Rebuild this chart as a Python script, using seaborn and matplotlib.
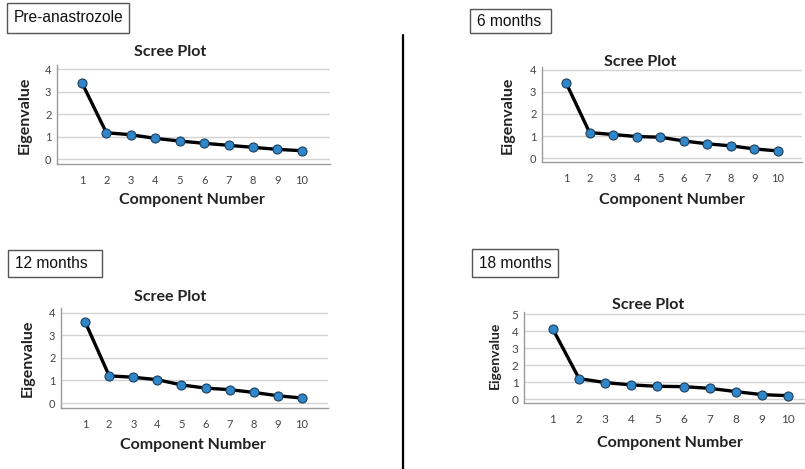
import matplotlib
matplotlib.use("Agg")
import matplotlib.pyplot as plt
import seaborn as sns
import pandas as pd

components = [1, 2, 3, 4, 5, 6, 7, 8, 9, 10]
eig_pre = [3.39, 1.17, 1.08, 0.92, 0.80, 0.70, 0.61, 0.52, 0.43, 0.37]
eig_6m = [3.41, 1.16, 1.07, 0.98, 0.95, 0.78, 0.65, 0.56, 0.42, 0.33]
eig_12m = [3.59, 1.20, 1.14, 1.03, 0.80, 0.66, 0.59, 0.47, 0.32, 0.22]
eig_18m = [4.10, 1.21, 0.98, 0.84, 0.76, 0.74, 0.64, 0.45, 0.27, 0.21]
panel_labels = ["Pre-anastrozole", "6 months", "12 months", "18 months"]
title_text = "Scree Plot"
xlabel_text = "Component Number"
ylabel_text = "Eigenvalue"

sns.set_theme(style="white")
plt.rcParams['font.family'] = ['Lato', 'DejaVu Sans']

W, H = 805, 469
fig = plt.figure(figsize=(W / 100, H / 100), dpi=100)


def fx(px):
    return px / W


def fy(py):
    return 1 - py / H


panels = [
    dict(vals=eig_pre, label=panel_labels[0], box=(57, 65, 330, 164), xlim=(-0.02, 11.15), ylim=(-0.22, 4.18),
         yticks=[0, 1, 2, 3, 4], title=(170, 52), xl=(192, 200), yl=(25, 115), ylsize=11.5,
         lbox=(7, 3, 129, 33), tsize=8),
    dict(vals=eig_6m, label=panel_labels[1], box=(542, 67, 802, 162), xlim=(-0.02, 11.02), ylim=(-0.17, 4.12),
         yticks=[0, 1, 2, 3, 4], title=(640, 62), xl=(672, 200), yl=(508, 115), ylsize=11.5,
         lbox=(470, 9, 551, 33), tsize=8),
    dict(vals=eig_12m, label=panel_labels[2], box=(61, 308, 328, 408), xlim=(0.0, 11.08), ylim=(-0.22, 4.2),
         yticks=[0, 1, 2, 3, 4], title=(170, 297), xl=(193, 445), yl=(28, 358), ylsize=11.5,
         lbox=(8, 250, 102, 277), tsize=8),
    dict(vals=eig_18m, label=panel_labels[3], box=(524, 312, 805, 403), xlim=(-0.11, 10.65), ylim=(-0.22, 5.12),
         yticks=[0, 1, 2, 3, 4, 5], title=(648, 305), xl=(670, 443), yl=(495, 355), ylsize=10,
         lbox=(472, 249, 558, 277), tsize=8.5),
]

for p in panels:
    l, t, r, b = p["box"]
    ax = fig.add_axes([fx(l), fy(b), (r - l) / W, (b - t) / H])
    df = pd.DataFrame({"Component": components, "Eigenvalue": p["vals"]})
    sns.lineplot(data=df, x="Component", y="Eigenvalue", ax=ax, color="black", linewidth=2.4,
                 marker="o", markersize=6.5, markerfacecolor="#2f86c8", markeredgecolor="#1d3f5e",
                 markeredgewidth=0.8, zorder=3)
    ax.set_xlim(*p["xlim"])
    ax.set_ylim(*p["ylim"])
    ax.set_xticks(components)
    ax.set_yticks(p["yticks"])
    ax.set_xlabel("")
    ax.set_ylabel("")
    ax.yaxis.grid(True, color="#d4d4d4", linewidth=1.0)
    ax.xaxis.grid(False)
    ax.set_axisbelow(True)
    for s in ["top", "right"]:
        ax.spines[s].set_visible(False)
    for s in ["left", "bottom"]:
        ax.spines[s].set_color("#9a9a9a")
        ax.spines[s].set_linewidth(1.0)
    ax.tick_params(axis="both", labelsize=p["tsize"], colors="#9a9a9a", labelcolor="#444444", length=0, pad=4)
    ax.tick_params(axis="x", pad=8)

    fig.text(fx(p["title"][0]), fy(p["title"][1]), title_text, ha="center", va="center",
             fontsize=11.5, fontweight="bold", color="#222222")
    fig.text(fx(p["xl"][0]), fy(p["xl"][1]), xlabel_text, ha="center", va="center",
             fontsize=11.5, fontweight="bold", color="#222222")
    fig.text(fx(p["yl"][0]), fy(p["yl"][1]), ylabel_text, ha="center", va="center", rotation=90,
             fontsize=p["ylsize"], fontweight="bold", color="#222222")

    bl, bt, br, bb = p["lbox"]
    fig.patches.append(plt.Rectangle((fx(bl), fy(bb)), (br - bl) / W, (bb - bt) / H,
                                     transform=fig.transFigure, fill=False, edgecolor="#555555",
                                     linewidth=1.0))
    fig.text(fx(bl + 7), fy((bt + bb) / 2), p["label"], ha="left", va="center",
             fontsize=11.2, family=["Liberation Sans", "DejaVu Sans"], color="#111111")

fig.add_artist(plt.Line2D([fx(403), fx(403)], [fy(35), fy(469)], transform=fig.transFigure,
                          color="black", linewidth=1.6))

fig.savefig("out.png", dpi=100)
